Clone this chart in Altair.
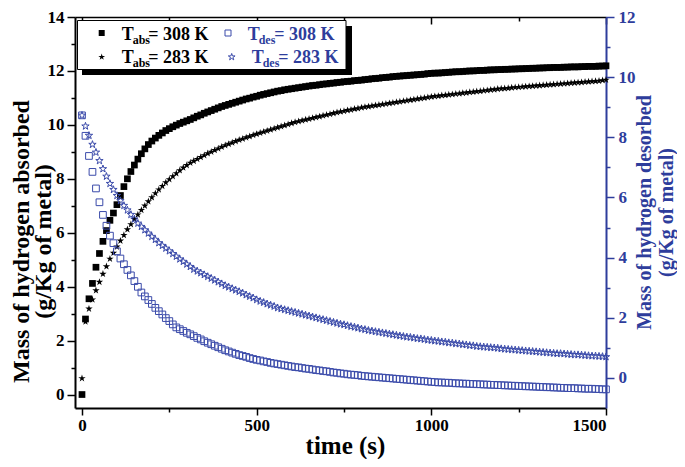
import altair as alt
import pandas as pd

# ---------------- data ----------------
time_s = list(range(0, 1501, 10))

abs_308 = [
    0.00, 2.80, 3.55, 4.12, 4.72, 5.23, 5.68, 6.08, 6.46, 6.73,
    7.04, 7.38, 7.71, 8.00, 8.27, 8.51, 8.73, 8.93, 9.11, 9.27,
    9.40, 9.51, 9.61, 9.70, 9.79, 9.86, 9.93, 9.99, 10.05, 10.10,
    10.15, 10.20, 10.26, 10.32, 10.37, 10.43, 10.48, 10.53, 10.58, 10.63,
    10.68, 10.72, 10.76, 10.80, 10.84, 10.88, 10.92, 10.96, 10.99, 11.03,
    11.06, 11.10, 11.13, 11.16, 11.19, 11.22, 11.25, 11.27, 11.30, 11.32,
    11.34, 11.36, 11.38, 11.40, 11.42, 11.44, 11.46, 11.47, 11.49, 11.51,
    11.52, 11.54, 11.55, 11.57, 11.58, 11.60, 11.61, 11.62, 11.64, 11.65,
    11.66, 11.68, 11.69, 11.71, 11.72, 11.73, 11.75, 11.76, 11.77, 11.79,
    11.80, 11.81, 11.82, 11.83, 11.84, 11.85, 11.86, 11.87, 11.88, 11.90,
    11.91, 11.92, 11.92, 11.93, 11.94, 11.95, 11.96, 11.97, 11.97, 11.98,
    11.99, 12.00, 12.00, 12.01, 12.02, 12.02, 12.03, 12.04, 12.04, 12.05,
    12.05, 12.06, 12.06, 12.07, 12.07, 12.08, 12.08, 12.09, 12.09, 12.10,
    12.10, 12.11, 12.11, 12.12, 12.12, 12.13, 12.13, 12.13, 12.14, 12.14,
    12.15, 12.15, 12.15, 12.16, 12.16, 12.17, 12.17, 12.17, 12.18, 12.18,
    12.19,
]

abs_283 = [
    0.60, 2.70, 3.18, 3.52, 3.86, 4.17, 4.47, 4.75, 5.03, 5.25,
    5.48, 5.70, 5.91, 6.12, 6.31, 6.50, 6.67, 6.84, 7.00, 7.16,
    7.31, 7.46, 7.60, 7.73, 7.86, 7.98, 8.09, 8.20, 8.31, 8.41,
    8.50, 8.59, 8.66, 8.73, 8.80, 8.87, 8.94, 9.00, 9.06, 9.12,
    9.18, 9.24, 9.29, 9.34, 9.39, 9.44, 9.48, 9.53, 9.57, 9.62,
    9.66, 9.70, 9.74, 9.78, 9.82, 9.86, 9.90, 9.94, 9.98, 10.02,
    10.06, 10.10, 10.13, 10.16, 10.19, 10.22, 10.25, 10.28, 10.31, 10.34,
    10.37, 10.40, 10.43, 10.46, 10.49, 10.51, 10.54, 10.56, 10.59, 10.61,
    10.64, 10.66, 10.68, 10.70, 10.72, 10.74, 10.76, 10.78, 10.80, 10.82,
    10.84, 10.86, 10.88, 10.90, 10.92, 10.94, 10.96, 10.98, 11.00, 11.02,
    11.04, 11.06, 11.07, 11.09, 11.10, 11.12, 11.13, 11.15, 11.16, 11.18,
    11.19, 11.21, 11.22, 11.24, 11.25, 11.27, 11.28, 11.30, 11.31, 11.33,
    11.34, 11.35, 11.36, 11.38, 11.39, 11.40, 11.41, 11.42, 11.43, 11.44,
    11.45, 11.46, 11.47, 11.48, 11.49, 11.50, 11.51, 11.52, 11.53, 11.54,
    11.55, 11.56, 11.57, 11.58, 11.59, 11.60, 11.61, 11.62, 11.63, 11.65,
    11.67,
]

des_308 = [
    8.73, 8.05, 7.38, 6.85, 6.30, 5.84, 5.42, 5.06, 4.73, 4.48,
    4.21, 3.97, 3.78, 3.59, 3.41, 3.22, 3.03, 2.84, 2.71, 2.59,
    2.46, 2.33, 2.22, 2.11, 1.99, 1.89, 1.78, 1.68, 1.62, 1.56,
    1.50, 1.45, 1.39, 1.33, 1.28, 1.22, 1.17, 1.12, 1.07, 1.02,
    0.97, 0.92, 0.88, 0.84, 0.80, 0.76, 0.73, 0.70, 0.66, 0.63,
    0.60, 0.58, 0.55, 0.53, 0.50, 0.48, 0.46, 0.44, 0.42, 0.40,
    0.38, 0.36, 0.35, 0.33, 0.31, 0.30, 0.28, 0.26, 0.25, 0.23,
    0.22, 0.20, 0.18, 0.17, 0.15, 0.14, 0.12, 0.11, 0.10, 0.09,
    0.07, 0.06, 0.05, 0.04, 0.03, 0.02, 0.01, 0.00, -0.01, -0.02,
    -0.03, -0.04, -0.05, -0.06, -0.07, -0.08, -0.09, -0.10, -0.11, -0.12,
    -0.13, -0.14, -0.15, -0.15, -0.16, -0.16, -0.17, -0.18, -0.18, -0.19,
    -0.19, -0.20, -0.20, -0.21, -0.21, -0.22, -0.22, -0.23, -0.23, -0.24,
    -0.24, -0.25, -0.25, -0.26, -0.26, -0.27, -0.27, -0.28, -0.28, -0.29,
    -0.29, -0.30, -0.30, -0.31, -0.31, -0.32, -0.32, -0.33, -0.33, -0.34,
    -0.34, -0.34, -0.35, -0.35, -0.36, -0.36, -0.36, -0.37, -0.37, -0.38,
    -0.38,
]

des_283 = [
    8.73, 8.37, 8.06, 7.76, 7.50, 7.22, 6.95, 6.70, 6.46, 6.26,
    6.06, 5.89, 5.73, 5.58, 5.43, 5.28, 5.14, 5.03, 4.92, 4.81,
    4.70, 4.60, 4.49, 4.40, 4.31, 4.22, 4.13, 4.04, 3.95, 3.87,
    3.78, 3.70, 3.61, 3.55, 3.49, 3.43, 3.37, 3.31, 3.25, 3.19,
    3.13, 3.07, 3.02, 2.97, 2.92, 2.87, 2.82, 2.76, 2.71, 2.66,
    2.60, 2.55, 2.51, 2.46, 2.42, 2.38, 2.33, 2.30, 2.27, 2.24,
    2.21, 2.18, 2.15, 2.12, 2.09, 2.06, 2.03, 2.00, 1.97, 1.94,
    1.91, 1.88, 1.85, 1.82, 1.79, 1.77, 1.74, 1.71, 1.69, 1.66,
    1.63, 1.61, 1.58, 1.56, 1.54, 1.52, 1.50, 1.48, 1.46, 1.44,
    1.42, 1.40, 1.38, 1.36, 1.35, 1.33, 1.31, 1.30, 1.28, 1.26,
    1.25, 1.23, 1.22, 1.20, 1.19, 1.17, 1.16, 1.14, 1.13, 1.11,
    1.10, 1.08, 1.07, 1.05, 1.04, 1.03, 1.02, 1.01, 1.00, 0.99,
    0.97, 0.96, 0.95, 0.94, 0.93, 0.92, 0.91, 0.90, 0.89, 0.88,
    0.87, 0.86, 0.85, 0.84, 0.83, 0.82, 0.81, 0.81, 0.80, 0.79,
    0.78, 0.77, 0.77, 0.76, 0.75, 0.74, 0.73, 0.73, 0.72, 0.71,
    0.70,
]

x_major = [0, 500, 1000, 1500]
x_minor = [250, 750, 1250]
left_major = [0, 2, 4, 6, 8, 10, 12, 14]
left_minor = [1, 3, 5, 7, 9, 11, 13]
right_major = [0, 2, 4, 6, 8, 10, 12]
right_minor = [1, 3, 5, 7, 9, 11]

left_title = ["Mass of hydrogen absorbed", "(g/Kg of metal)"]
right_title = ["Mass of hydrogen desorbed", "(g/Kg of metal)"]
x_title = "time (s)"

# ---------------- styling ----------------
FONT = "'Liberation Serif', 'Times New Roman', 'DejaVu Serif', serif"
BLUE_TXT = "#2E3D9C"
BLUE_MK = "#3B4BAA"
STAR = ("M0,-1L0.2245,-0.309L0.9511,-0.309L0.3633,0.118L0.5878,0.809"
        "L0,0.382L-0.5878,0.809L-0.3633,0.118L-0.9511,-0.309L-0.2245,-0.309Z")
W, H = 531, 391

df = pd.DataFrame({"t": time_s, "a308": abs_308, "a283": abs_283,
                   "d308": des_308, "d283": des_283})

xs = alt.Scale(domain=[-20, 1500], nice=False, zero=False)
ls = alt.Scale(domain=[-0.5, 14], nice=False, zero=False)
rs = alt.Scale(domain=[-1, 12], nice=False, zero=False)

LBL = dict(labelFont=FONT, labelFontWeight="bold", labelFontSize=17)
TTL = dict(titleFont=FONT, titleFontWeight="bold")

base = alt.Chart(df)

l1 = base.mark_point(shape="square", filled=True, color="black", size=45, opacity=1).encode(
    x=alt.X("t:Q", scale=xs, axis=alt.Axis(
        orient="bottom", values=x_major, format="d", tickSize=7, labelPadding=2,
        domainWidth=2, tickWidth=1.5, **LBL, **TTL,
        title=x_title, titleFontSize=25, titleX=270, titleY=37,
        titleBaseline="middle", titleAlign="center")),
    y=alt.Y("a308:Q", scale=ls, axis=alt.Axis(
        orient="left", values=left_major, format="d", tickSize=8, labelPadding=3,
        domainWidth=2, tickWidth=1.5, **LBL, **TTL,
        title=left_title, titleFontSize=24, titleAngle=270, titleX=-54,
        titleY=224, titleBaseline="middle", titleAlign="center", titleLineHeight=22)),
)

l2 = base.mark_point(shape=STAR, filled=True, color="black", size=60, opacity=1).encode(
    x=alt.X("t:Q", scale=xs, axis=alt.Axis(
        orient="bottom", values=x_minor, labels=False, domain=False, tickSize=4,
        tickWidth=1.5, title=None)),
    y=alt.Y("a283:Q", scale=ls, axis=alt.Axis(
        orient="left", values=left_minor, labels=False, domain=False, tickSize=4,
        tickWidth=1.5, title=None)),
)

l3 = base.mark_point(shape="square", filled=False, color=BLUE_MK, size=45,
                     strokeWidth=1, opacity=1).encode(
    x=alt.X("t:Q", scale=xs, axis=alt.Axis(
        orient="bottom", offset=-H, values=x_major, labels=False, tickSize=7,
        domainWidth=1.5, tickWidth=1.5, title=None)),
    y=alt.Y("d308:Q", scale=rs, axis=alt.Axis(
        orient="right", values=right_major, format="d", tickSize=8, labelPadding=4,
        **LBL, **TTL, labelColor=BLUE_TXT, tickColor=BLUE_TXT,
        domainColor=BLUE_TXT, domainWidth=2, tickWidth=1.5,
        title=right_title, titleColor=BLUE_TXT, titleFontSize=20, titleAngle=270,
        titleX=38, titleY=195, titleBaseline="middle", titleAlign="center",
        titleLineHeight=22)),
)

l4 = base.mark_point(shape=STAR, filled=False, color=BLUE_MK, size=60,
                     strokeWidth=1, opacity=1).encode(
    x=alt.X("t:Q", scale=xs, axis=alt.Axis(
        orient="bottom", offset=-H, values=x_minor, labels=False, domain=False,
        tickSize=4, tickWidth=1.5, title=None)),
    y=alt.Y("d283:Q", scale=rs, axis=alt.Axis(
        orient="right", values=right_minor, labels=False, domain=False, tickSize=4,
        tickColor=BLUE_TXT, tickWidth=1.5, title=None)),
)

# ---------------- legend (custom, with subscripts) ----------------
one = alt.Chart(pd.DataFrame({"k": [0]}))

shadow = one.mark_rect(color="black").encode(
    x=alt.value(7), x2=alt.value(277), y=alt.value(9), y2=alt.value(58))
box = one.mark_rect(fill="white", stroke="black", strokeWidth=1).encode(
    x=alt.value(2.5), x2=alt.value(271), y=alt.value(3.5), y2=alt.value(52.5))

leg_marks = [
    one.mark_point(shape="square", filled=True, color="black", size=36, opacity=1)
       .encode(x=alt.value(26.7), y=alt.value(16)),
    one.mark_point(shape=STAR, filled=True, color="black", size=50, opacity=1)
       .encode(x=alt.value(26.7), y=alt.value(40)),
    one.mark_point(shape="square", filled=False, color=BLUE_MK, size=36, strokeWidth=1, opacity=1)
       .encode(x=alt.value(153), y=alt.value(16)),
    one.mark_point(shape=STAR, filled=False, color=BLUE_MK, size=50, strokeWidth=1, opacity=1)
       .encode(x=alt.value(156.7), y=alt.value(40)),
]


def label(x0, base_y, sub, rest, color):
    parts = []
    parts.append(one.mark_text(text="T", font=FONT, fontWeight="bold", fontSize=18,
                               align="left", baseline="alphabetic", color=color)
                 .encode(x=alt.value(x0), y=alt.value(base_y)))
    parts.append(one.mark_text(text=sub, font=FONT, fontWeight="bold", fontSize=12,
                               align="left", baseline="alphabetic", color=color)
                 .encode(x=alt.value(x0 + 11), y=alt.value(base_y + 4)))
    parts.append(one.mark_text(text=rest, font=FONT, fontWeight="bold", fontSize=18,
                               align="left", baseline="alphabetic", color=color)
                 .encode(x=alt.value(x0 + 26.5), y=alt.value(base_y)))
    return parts


leg_text = []
leg_text += label(46.7, 22.5, "abs", "= 308 K", "black")
leg_text += label(46.7, 45.5, "abs", "= 283 K", "black")
leg_text += label(172.7, 22.5, "des", "= 308 K", BLUE_TXT)
leg_text += label(176.7, 45.5, "des", "= 283 K", BLUE_TXT)

chart = alt.layer(
    l1, l2, l3, l4, shadow, box, *leg_marks, *leg_text
).resolve_scale(
    y="independent"
).resolve_axis(
    x="independent", y="independent"
).properties(
    width=W, height=H,
    padding={"left": 67, "top": 9, "right": 71, "bottom": 51},
    autosize=alt.AutoSizeParams(type="none"),
).configure_view(
    stroke="transparent"
).configure_axis(
    grid=False, labelFont=FONT, titleFont=FONT, labelFontWeight="bold",
    titleFontWeight="bold", labelColor="black", titleColor="black",
    domainColor="black", tickColor="black",
)

chart.save("out.html", embed_options={"renderer": "svg", "actions": False})
